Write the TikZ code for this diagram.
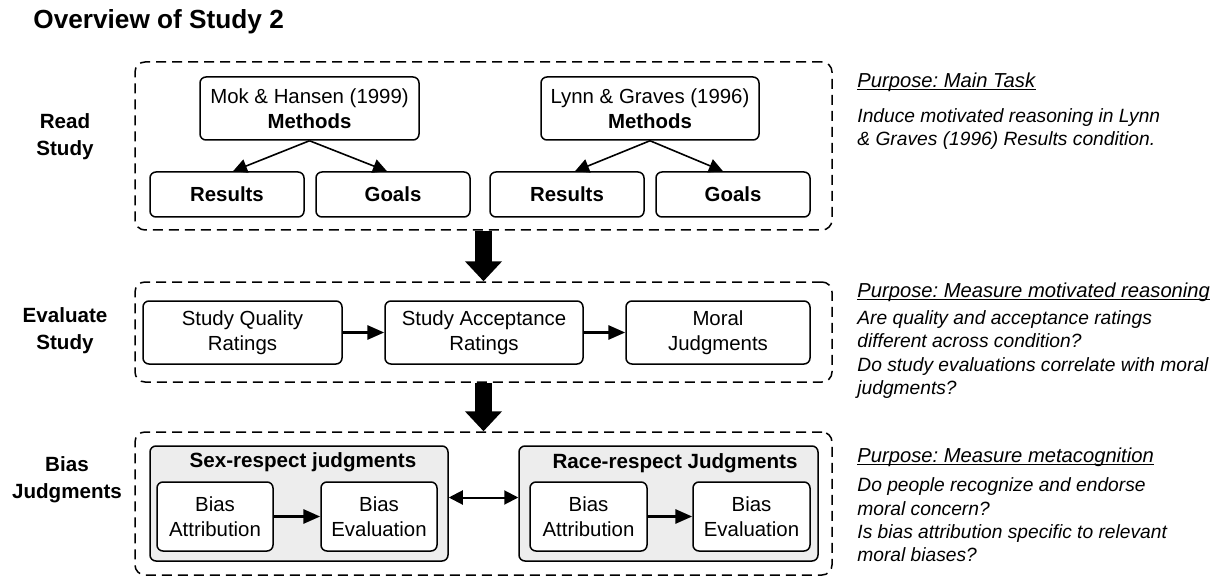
\documentclass[tikz,border=0pt]{standalone}
\usepackage{fontspec}
\setmainfont{Liberation Sans}
\usetikzlibrary{arrows.meta}
\frenchspacing

\begin{document}
\begin{tikzpicture}[x=0.5pt,y=-0.5pt]
  \tikzset{box/.style={draw, line width=0.75pt, rounded corners=3pt, align=center, inner sep=0pt,
      font=\fontsize{10.2}{12.6}\selectfont},
    pairbox/.style={box, fill=black!7},
    stage/.style={draw, dash pattern=on 5pt off 3pt, line width=0.75pt, rounded corners=5pt,
      minimum width=348.5pt},
    rowname/.style={align=center, inner sep=0pt, font=\fontsize{10.3}{13.4}\selectfont\bfseries},
    purpose/.style={anchor=west, inner sep=0pt, font=\fontsize{10.1}{12}\selectfont\itshape},
    note/.style={anchor=west, align=left, inner sep=0pt, font=\fontsize{9.6}{11.7}\selectfont\itshape},
    split/.style={-{Triangle[length=7pt,width=7pt]}, line width=0.8pt},
    flow/.style={-{Triangle[length=8.5pt,width=7pt]}, line width=1.5pt},
    bigarrow/.style={-{Triangle[length=10pt,width=18pt]}, line width=8.5pt}}
  \useasboundingbox (0,0) rectangle (1225,577);

  \node[anchor=west, inner sep=0pt, font=\fontsize{13.1}{15}\selectfont\bfseries] (title) at (33,22) {Overview of Study 2};

  % stages
  \node[stage, minimum height=84pt] (read) at (483.5,146) {};
  \node[stage, minimum height=50pt] (eval) at (483.5,332) {};
  \node[stage, minimum height=71.5pt] (bias) at (483.5,503.5) {};
  \node[rowname] (readlbl) at (65,136.5) {Read\\Study};
  \node[rowname] (evallbl) at (65,330.5) {Evaluate\\Study};
  \node[rowname] (biaslbl) at (67,480) {Bias\\Judgments};

  % read study
  \node[box, minimum width=109.5pt, minimum height=31.5pt] (mokm) at (309.5,108.5) {Mok \& Hansen (1999)\\\textbf{Methods}};
  \node[box, minimum width=77pt, minimum height=22.5pt] (mokr) at (227,194.5) {\textbf{Results}};
  \node[box, minimum width=77pt, minimum height=22.5pt] (mokg) at (393,194.5) {\textbf{Goals}};
  \node[box, minimum width=109pt, minimum height=31.5pt] (lynnm) at (650,108.5) {Lynn \& Graves (1996)\\\textbf{Methods}};
  \node[box, minimum width=77pt, minimum height=22.5pt] (lynnr) at (567,194.5) {\textbf{Results}};
  \node[box, minimum width=77pt, minimum height=22.5pt] (lynng) at (733,194.5) {\textbf{Goals}};
  \draw[split] (mokm.south) -- ([xshift=3pt]mokr.north);
  \draw[split] (mokm.south) -- ([xshift=-3pt]mokg.north);
  \draw[split] (lynnm.south) -- ([xshift=4pt]lynnr.north);
  \draw[split] (lynnm.south) -- ([xshift=-5pt]lynng.north);

  % evaluate study
  \node[box, minimum width=99.5pt, minimum height=31.5pt] (quality) at (242.5,332.5) {Study Quality\\Ratings};
  \node[box, minimum width=99pt, minimum height=31.5pt] (accept) at (484,332.5) {Study Acceptance\\Ratings};
  \node[box, minimum width=92pt, minimum height=31.5pt] (moral) at (718,332.5) {Moral\\Judgments};
  \draw[flow] (quality) -- (accept);
  \draw[flow] (accept) -- (moral);

  % bias judgments
  \node[pairbox, minimum width=149pt, minimum height=57.5pt] (sex) at (299,503.5) {};
  \node[pairbox, minimum width=149.5pt, minimum height=57.5pt] (race) at (668.5,503.5) {};
  \node[rowname] (sexlbl) at (303,462) {Sex-respect judgments};
  \node[rowname] (racelbl) at (675,463) {Race-respect Judgments};
  \node[box, fill=white, minimum width=58pt, minimum height=34.5pt] (sexatt) at (215,516.5) {Bias\\Attribution};
  \node[box, fill=white, minimum width=58pt, minimum height=34.5pt] (sexeval) at (379,516.5) {Bias\\Evaluation};
  \node[box, fill=white, minimum width=58.5pt, minimum height=34.5pt] (raceatt) at (588.5,516.5) {Bias\\Attribution};
  \node[box, fill=white, minimum width=58.5pt, minimum height=34.5pt] (raceeval) at (751.5,516.5) {Bias\\Evaluation};
  \draw[flow] (sexatt) -- (sexeval);
  \draw[flow] (raceatt) -- (raceeval);
  \draw[{Triangle[length=7pt,width=7pt]}-{Triangle[length=7pt,width=7pt]}, line width=1pt]
    ([yshift=3pt]sex.east) -- ([yshift=3pt]race.west);

  \draw[bigarrow] (read.south) -- (eval.north);
  \draw[bigarrow] (eval.south) -- (bias.north);

  % purposes
  \node[purpose] (p1) at (857,82) {Purpose: Main Task};
  \node[note] (n1) at (857,129) {Induce motivated reasoning in Lynn\\\& Graves (1996) Results condition.};
  \node[purpose] (p2) at (857,292) {Purpose: Measure motivated reasoning};
  \node[note] (n2) at (857,354.5) {Are quality and acceptance ratings\\different across condition?\\Do study evaluations correlate with moral\\judgments?};
  \node[purpose] (p3) at (857,457) {Purpose: Measure metacognition};
  \node[note] (n3) at (857,520) {Do people recognize and endorse\\moral concern?\\Is bias attribution specific to relevant\\moral biases?};
  \foreach \p in {p1,p2,p3}
    \draw[line width=0.5pt] ([yshift=-1.2pt]\p.base west) -- ([yshift=-1.2pt]\p.base east);
\end{tikzpicture}
\end{document}
